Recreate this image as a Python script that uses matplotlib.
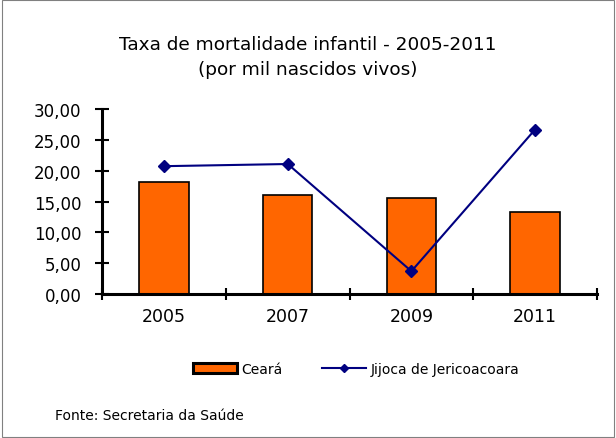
import matplotlib
matplotlib.use("Agg")
import matplotlib.pyplot as plt
from matplotlib.patches import Rectangle

plt.rcParams['font.family'] = ['DejaVu Sans']

years = ["2005", "2007", "2009", "2011"]
ceara = [18.15, 16.05, 15.55, 13.3]
jijoca = [20.75, 21.1, 3.7, 26.7]
yticks = [0, 5, 10, 15, 20, 25, 30]
ytick_labels = ["0,00", "5,00", "10,00", "15,00", "20,00", "25,00", "30,00"]

fig = plt.figure(figsize=(6.16, 4.39), dpi=100)
fig.patches.append(Rectangle((0.003, 0.003), 0.994, 0.994, transform=fig.transFigure,
                             fill=False, edgecolor='#808080', linewidth=0.8))
ax = fig.add_axes([0.166, 0.328, 0.803, 0.421])

x = list(range(len(years)))
ax.bar(x, ceara, width=0.4, color='#FF6600', edgecolor='black', linewidth=1.2,
       label='Ceará', zorder=2)
ax.plot(x, jijoca, color='#000080', marker='D', markersize=6, linewidth=1.5,
        label='Jijoca de Jericoacoara', zorder=3)

ax.set_xlim(-0.5, len(years) - 0.5)
ax.set_ylim(0, 30)
ax.set_yticks(yticks)
ax.set_yticklabels(ytick_labels, fontsize=12)
ax.set_xticks(x)
ax.set_xticklabels(years, fontsize=12.5)
ax.set_xticks([i + 0.5 for i in range(-1, len(years))], minor=True)
ax.tick_params(axis='x', which='major', length=0, pad=9)
ax.tick_params(axis='x', which='minor', length=8, width=1.5, direction='inout')
ax.tick_params(axis='y', length=10, width=1.5, direction='inout', pad=10)

for s in ['top', 'right']:
    ax.spines[s].set_visible(False)
for s in ['left', 'bottom']:
    ax.spines[s].set_linewidth(2.2)

fig.text(0.5, 0.897, "Taxa de mortalidade infantil - 2005-2011", ha='center', va='center', fontsize=13.3)
fig.text(0.5, 0.84, "(por mil nascidos vivos)", ha='center', va='center', fontsize=13.3)

handles, labels = ax.get_legend_handles_labels()
order = [labels.index('Ceará'), labels.index('Jijoca de Jericoacoara')]
leg = fig.legend([handles[i] for i in order], [labels[i] for i in order],
                 loc='center', bbox_to_anchor=(0.578, 0.157), ncol=2,
                 frameon=False, fontsize=10, handlelength=3.2, columnspacing=2.8,
                 handletextpad=0.3, markerscale=0.75)
leg.legend_handles[0].set_linewidth(2.2)

fig.text(0.09, 0.052, "Fonte: Secretaria da Saúde", ha='left', va='center', fontsize=10)

fig.savefig("out.png", dpi=100)
